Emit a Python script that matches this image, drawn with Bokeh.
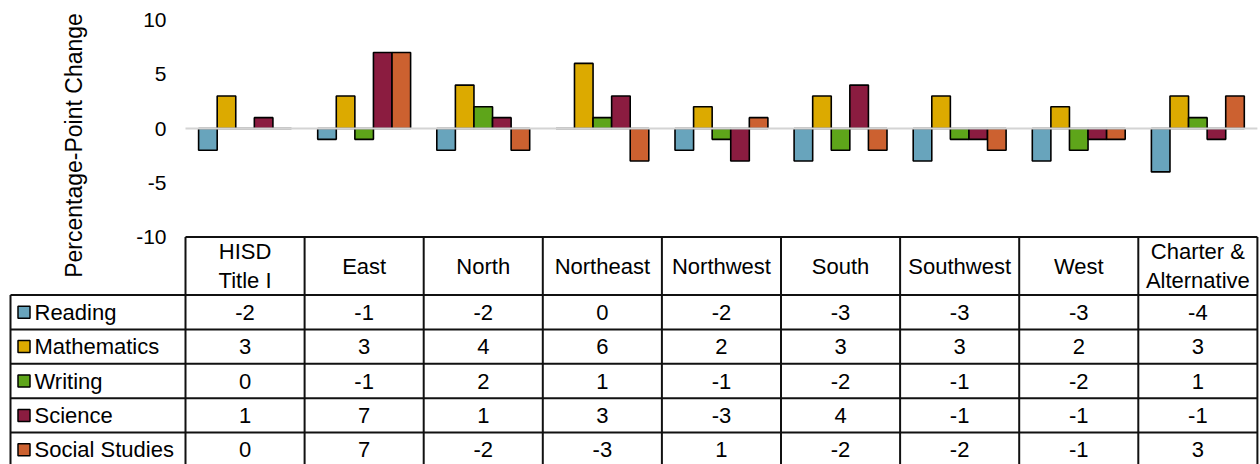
import math
from bokeh.plotting import figure
from bokeh.models import Range1d, ColumnDataSource
from bokeh.core.properties import value
from bokeh.embed import file_html
from bokeh.resources import INLINE

# ---------------- data ----------------
regions = ["HISD\nTitle I", "East", "North", "Northeast", "Northwest",
           "South", "Southwest", "West", "Charter &\nAlternative"]
subjects = ["Reading", "Mathematics", "Writing", "Science", "Social Studies"]
reading = [-2, -1, -2, 0, -2, -3, -3, -3, -4]
mathematics = [3, 3, 4, 6, 2, 3, 3, 2, 3]
writing = [0, -1, 2, 1, -1, -2, -1, -2, 1]
science = [1, 7, 1, 3, -3, 4, -1, -1, -1]
social_studies = [0, 7, -2, -3, 1, -2, -2, -1, 3]
y_ticks = [-10, -5, 0, 5, 10]
y_title = "Percentage-Point Change"

series = [reading, mathematics, writing, science, social_studies]
colors = ["#68a4bc", "#dcaa00", "#5ea51a", "#8b1c40", "#cc6130"]

# ---------------- layout (data units: 1 category = 1 x unit) ----------------
PX_X = 119.1      # pixels per category
PX_Y = 10.85      # pixels per y unit
X0 = 185.0        # plot-area left in page px
Y0 = 128.0        # zero line in page px

def dx(px):
    return (px - X0) / PX_X

def dy(py):
    return (Y0 - py) / PX_Y

W, H = 1260, 464
p = figure(width=W, height=H, output_backend="svg", toolbar_location=None,
           x_range=Range1d(dx(0), dx(W)), y_range=Range1d(dy(H), dy(0)),
           min_border=0, outline_line_color=None)
p.axis.visible = False
p.grid.visible = False
p.background_fill_color = "white"

FONT = value("Liberation Sans")
n = len(regions)
BAR_W = 0.156

# bars
for k, (vals, col) in enumerate(zip(series, colors)):
    xs = [i + 0.5 + (k - 2) * BAR_W for i in range(n)]
    src = ColumnDataSource(dict(x=xs, top=vals, bottom=[0] * n))
    p.vbar(x="x", top="top", bottom="bottom", width=BAR_W, source=src,
           fill_color=col, line_color="black", line_width=1.6)

# zero line
p.segment(x0=[0], y0=[0], x1=[n], y1=[0], line_color="#d4d4d4", line_width=2)

# y tick labels
p.text(x=[dx(166)] * len(y_ticks), y=y_ticks, text=[str(t) for t in y_ticks],
       text_font=FONT, text_font_size="21px", text_align="right",
       text_baseline="middle", text_color="black")

# y title
p.text(x=[dx(73)], y=[dy(145)], text=[y_title], angle=math.pi / 2,
       text_font=FONT, text_font_size="23px", text_align="center",
       text_baseline="middle", text_color="black")

# ---------------- data table ----------------
TABLE_TOP = -10.0
HEADER_H = 58 / PX_Y
ROW_H = 34.4 / PX_Y
LEG_LEFT = dx(10)
bottom = TABLE_TOP - HEADER_H - ROW_H * len(subjects)
hdr_bot = TABLE_TOP - HEADER_H

x0s, y0s, x1s, y1s = [], [], [], []
# header top
x0s.append(0); y0s.append(TABLE_TOP); x1s.append(n); y1s.append(TABLE_TOP)
# row lines
for r in range(len(subjects) + 1):
    yy = hdr_bot - r * ROW_H
    x0s.append(LEG_LEFT); y0s.append(yy); x1s.append(n); y1s.append(yy)
# vertical lines
for i in range(n + 1):
    x0s.append(i); y0s.append(TABLE_TOP); x1s.append(i); y1s.append(bottom)
x0s.append(LEG_LEFT); y0s.append(hdr_bot); x1s.append(LEG_LEFT); y1s.append(bottom)
p.segment(x0=x0s, y0=y0s, x1=x1s, y1=y1s, line_color="#111111", line_width=2)

# header texts
p.text(x=[i + 0.5 for i in range(n)], y=[TABLE_TOP - HEADER_H / 2] * n, text=regions,
       text_font=FONT, text_font_size="22px", text_align="center",
       text_baseline="middle", text_color="black", text_line_height=1.15)

# legend column
row_y = [hdr_bot - (r + 0.5) * ROW_H for r in range(len(subjects))]
p.scatter(x=[dx(23.5)] * len(subjects), y=row_y, marker="square", size=12,
          fill_color=colors, line_color="black", line_width=1.5)
p.text(x=[dx(34)] * len(subjects), y=row_y, text=subjects,
       text_font=FONT, text_font_size="22px", text_align="left",
       text_baseline="middle", text_color="black")

# values
tx, ty, tt = [], [], []
for r, vals in enumerate(series):
    for i, v in enumerate(vals):
        tx.append(i + 0.5); ty.append(row_y[r]); tt.append(str(v))
p.text(x=tx, y=ty, text=tt, text_font=FONT, text_font_size="22px",
       text_align="center", text_baseline="middle", text_color="black")

open("out.html", "w").write(file_html(p, INLINE))
